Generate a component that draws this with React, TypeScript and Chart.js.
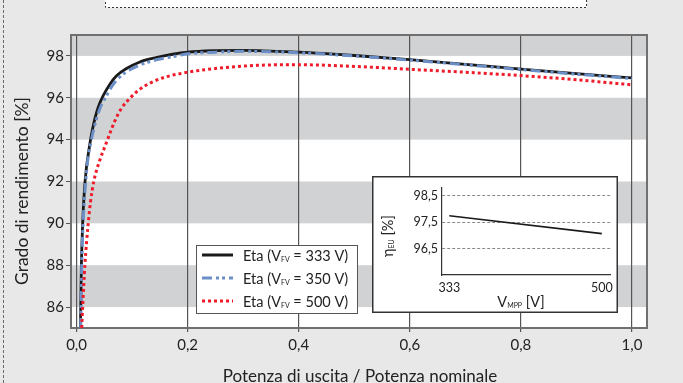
import React, { useEffect, useRef } from 'react';
import { Chart, registerables } from 'chart.js';

Chart.register(...registerables);

const FONT = 'Lato, "Open Sans", sans-serif';

// ---- main chart data ----
const X_TICKS = [0, 0.2, 0.4, 0.6, 0.8, 1.0];
const Y_TICKS = [86, 88, 90, 92, 94, 96, 98];
const BANDS = [[86, 88], [90, 92], [94, 96], [98, 100]];

const P_333 = [0.007, 0.0075, 0.0087, 0.011, 0.0153, 0.024, 0.028, 0.033, 0.039, 0.048, 0.06, 0.072, 0.09, 0.113, 0.143, 0.173, 0.2, 0.25, 0.3, 0.4, 0.5, 0.6, 0.7, 0.8, 0.9, 1.0];
const ETA_333 = [85, 86, 88, 90, 92, 93.8, 94.4, 95.0, 95.55, 96.1, 96.65, 97.05, 97.4, 97.7, 97.92, 98.08, 98.18, 98.25, 98.27, 98.18, 98.02, 97.82, 97.6, 97.37, 97.15, 96.95];

const P_350 = [0.0075, 0.008, 0.0093, 0.0118, 0.0165, 0.021, 0.026, 0.03, 0.036, 0.043, 0.053, 0.065, 0.078, 0.097, 0.119, 0.15, 0.18, 0.2, 0.25, 0.3, 0.4, 0.5, 0.6, 0.7, 0.8, 0.9, 1.0];
const ETA_350 = [85, 86, 88, 90, 92, 93.2, 93.9, 94.4, 95.0, 95.55, 96.05, 96.6, 97.0, 97.35, 97.62, 97.85, 98.0, 98.1, 98.18, 98.22, 98.15, 98.0, 97.8, 97.58, 97.35, 97.13, 96.92];

const P_500 = [0.0093, 0.011, 0.015, 0.021, 0.025, 0.031, 0.042, 0.051, 0.06, 0.069, 0.081, 0.098, 0.116, 0.137, 0.161, 0.2, 0.25, 0.325, 0.4, 0.5, 0.6, 0.7, 0.8, 0.9, 1.0];
const ETA_500 = [85, 86, 88, 90, 91.0, 92, 93.03, 93.67, 94.3, 94.9, 95.5, 96.03, 96.45, 96.76, 97.0, 97.22, 97.4, 97.55, 97.58, 97.5, 97.36, 97.22, 97.06, 96.86, 96.62];

const LEGEND_VOLTAGES = ['333', '350', '500'];

// ---- inset data ----
const V_MPP = [333, 500];
const ETA_EU = [97.75, 97.07];
const INSET_X_TICKS = [333, 500];
const INSET_Y_TICKS = [96.5, 97.5, 98.5];

const X_TITLE = 'Potenza di uscita / Potenza nominale';
const Y_TITLE = 'Grado di rendimento [%]';

const COLORS = ['#1a1a1a', '#6b8fc6', '#ee1c2a'];
const DASHES: number[][] = [[], [10, 4, 3, 3, 3, 4], [3, 3]];

type Part = { t: string; sub?: boolean };

function drawRich(ctx: CanvasRenderingContext2D, parts: Part[], x: number, y: number, size: number, subSize: number, align: 'left' | 'center') {
  const widths = parts.map((p) => {
    ctx.font = `${p.sub ? subSize : size}px ${FONT}`;
    return ctx.measureText(p.t).width;
  });
  const total = widths.reduce((a, b) => a + b, 0);
  let cx = align === 'center' ? x - total / 2 : x;
  ctx.textAlign = 'left';
  ctx.textBaseline = 'alphabetic';
  parts.forEach((p, i) => {
    ctx.font = `${p.sub ? subSize : size}px ${FONT}`;
    ctx.fillText(p.t, cx, p.sub ? y + 1.5 : y);
    cx += widths[i];
  });
}

const mainDecor = {
  id: 'mainDecor',
  beforeDraw(chart: any) {
    const { ctx, chartArea: a, scales } = chart;
    const y = scales.y;
    ctx.save();
    ctx.fillStyle = '#ffffff';
    ctx.fillRect(a.left, a.top, a.right - a.left, a.bottom - a.top);
    ctx.fillStyle = '#d1d2d4';
    BANDS.forEach(([lo, hi]) => {
      const y1 = Math.max(y.getPixelForValue(hi), a.top);
      const y2 = Math.min(y.getPixelForValue(lo), a.bottom);
      if (y2 > y1) ctx.fillRect(a.left, y1, a.right - a.left, y2 - y1);
    });
    ctx.restore();
  },
  afterDraw(chart: any) {
    const { ctx, chartArea: a } = chart;
    ctx.save();
    // top and right frame
    ctx.strokeStyle = '#707070';
    ctx.lineWidth = 2;
    ctx.beginPath();
    ctx.moveTo(a.left - 1, a.top);
    ctx.lineTo(a.right, a.top);
    ctx.lineTo(a.right, a.bottom + 1);
    ctx.stroke();

    // outer dashed frame (left) and title box
    ctx.strokeStyle = '#6a6a6a';
    ctx.lineWidth = 1;
    ctx.setLineDash([3, 2]);
    ctx.beginPath();
    ctx.moveTo(3.5, 0);
    ctx.lineTo(3.5, 383);
    ctx.stroke();
    ctx.fillStyle = '#ffffff';
    ctx.fillRect(105, -3, 482, 10.5);
    ctx.strokeStyle = '#333';
    ctx.setLineDash([2, 2]);
    ctx.strokeRect(105.5, -3, 481, 10.5);
    ctx.setLineDash([]);

    // axis titles
    ctx.fillStyle = '#222';
    ctx.font = `17px ${FONT}`;
    ctx.textAlign = 'center';
    ctx.textBaseline = 'alphabetic';
    ctx.fillText(X_TITLE, (a.left + a.right) / 2 + 1, 382);
    ctx.save();
    ctx.translate(27.5, 191);
    ctx.rotate(-Math.PI / 2);
    ctx.font = `17.5px ${FONT}`;
    ctx.fillText(Y_TITLE, 0, 0);
    ctx.restore();

    // legend
    const lx = 196, ly = 245, lw = 161, lh = 68;
    ctx.fillStyle = '#ffffff';
    ctx.fillRect(lx, ly, lw, lh);
    ctx.strokeStyle = '#555';
    ctx.lineWidth = 1;
    ctx.strokeRect(lx + 0.5, ly + 0.5, lw, lh);
    LEGEND_VOLTAGES.forEach((v, i) => {
      const cy = 255 + i * 23;
      ctx.strokeStyle = COLORS[i];
      ctx.lineWidth = 3;
      ctx.setLineDash(DASHES[i]);
      ctx.beginPath();
      ctx.moveTo(202, cy);
      ctx.lineTo(233, cy);
      ctx.stroke();
      ctx.setLineDash([]);
      ctx.fillStyle = '#222';
      drawRich(ctx, [{ t: 'Eta (V' }, { t: 'FV', sub: true }, { t: ` = ${v} V)` }], 243, cy + 5.5, 14.5, 7, 'left');
    });
    ctx.restore();
  },
};

const insetDecor = {
  id: 'insetDecor',
  beforeDraw(chart: any) {
    const { ctx, width, height } = chart;
    ctx.save();
    ctx.fillStyle = '#ffffff';
    ctx.fillRect(0, 0, width, height);
    ctx.restore();
  },
  afterDraw(chart: any) {
    const { ctx, width, height } = chart;
    ctx.save();
    ctx.strokeStyle = '#333';
    ctx.lineWidth = 1.5;
    ctx.strokeRect(0.75, 0.75, width - 1.5, height - 1.5);
    ctx.fillStyle = '#222';
    drawRich(ctx, [{ t: 'V' }, { t: 'MPP', sub: true }, { t: ' [V]' }], 149, 130.5, 14.5, 7, 'center');
    ctx.translate(20.5, 60);
    ctx.rotate(-Math.PI / 2);
    drawRich(ctx, [{ t: 'η' }, { t: 'EU', sub: true }, { t: ' [%]' }], 0, 0, 14.5, 7, 'center');
    ctx.restore();
  },
};

export default function App() {
  const mainRef = useRef<HTMLCanvasElement>(null);
  const insetRef = useRef<HTMLCanvasElement>(null);

  useEffect(() => {
    document.body.style.margin = '0';
    const series = [
      [P_333, ETA_333],
      [P_350, ETA_350],
      [P_500, ETA_500],
    ];
    const main = new Chart(mainRef.current!, {
      type: 'line',
      data: {
        datasets: series.map(([xs, ys], i) => ({
          label: `Eta (VFV = ${LEGEND_VOLTAGES[i]} V)`,
          data: xs.map((x, j) => ({ x, y: ys[j] })),
          borderColor: COLORS[i],
          borderWidth: i === 0 ? 2.8 : 3,
          borderDash: DASHES[i],
          pointRadius: 0,
          fill: false,
          cubicInterpolationMode: 'monotone' as const,
          order: 2 - i,
        })),
      },
      options: {
        responsive: false,
        animation: false,
        devicePixelRatio: 1,
        layout: { padding: { top: 35, right: 36, left: 0, bottom: 0 } },
        plugins: { legend: { display: false }, tooltip: { enabled: false } },
        scales: {
          x: {
            type: 'linear',
            min: -0.01,
            max: 1.027,
            afterBuildTicks: (s: any) => {
              s.ticks = X_TICKS.map((v) => ({ value: v }));
            },
            afterFit: (s: any) => {
              s.height = 55;
            },
            grid: { color: '#555', lineWidth: 1.2, tickLength: 4, drawOnChartArea: true },
            border: { color: '#707070', width: 2 },
            ticks: {
              font: { family: FONT, size: 15 },
              color: '#222',
              padding: 4,
              maxRotation: 0,
              callback: (v: any) => Number(v).toFixed(1).replace('.', ','),
            },
          },
          y: {
            type: 'linear',
            min: 85,
            max: 99,
            afterBuildTicks: (s: any) => {
              s.ticks = Y_TICKS.map((v) => ({ value: v }));
            },
            afterFit: (s: any) => {
              s.width = 71;
            },
            grid: { color: '#555', lineWidth: 1, tickLength: 5, drawOnChartArea: false },
            border: { color: '#707070', width: 2 },
            ticks: {
              font: { family: FONT, size: 15 },
              color: '#222',
              padding: 2,
              callback: (v: any) => String(v),
            },
          },
        },
      },
      plugins: [mainDecor],
    });

    const inset = new Chart(insetRef.current!, {
      type: 'line',
      data: {
        datasets: [
          {
            data: V_MPP.map((x, i) => ({ x, y: ETA_EU[i] })),
            borderColor: '#1a1a1a',
            borderWidth: 1.6,
            pointRadius: 0,
            fill: false,
          },
        ],
      },
      options: {
        responsive: false,
        animation: false,
        devicePixelRatio: 1,
        layout: { padding: { top: 12, right: 5, left: 0, bottom: 0 } },
        plugins: { legend: { display: false }, tooltip: { enabled: false } },
        scales: {
          x: {
            type: 'linear',
            min: 325,
            max: 510,
            afterBuildTicks: (s: any) => {
              s.ticks = INSET_X_TICKS.map((v) => ({ value: v }));
            },
            afterFit: (s: any) => {
              s.height = 38;
            },
            grid: { drawOnChartArea: false, drawTicks: false },
            border: { color: '#333', width: 1.2 },
            ticks: {
              font: { family: FONT, size: 12.5 },
              color: '#222',
              padding: 5,
              maxRotation: 0,
              callback: (v: any) => String(v),
            },
          },
          y: {
            type: 'linear',
            min: 95.5,
            max: 98.8,
            afterBuildTicks: (s: any) => {
              s.ticks = INSET_Y_TICKS.map((v) => ({ value: v }));
            },
            afterFit: (s: any) => {
              s.width = 70;
            },
            grid: { color: '#8a8a8a', lineWidth: 1, drawTicks: false, drawOnChartArea: true },
            border: { color: '#333', width: 1.2, dash: [3, 2] },
            ticks: {
              font: { family: FONT, size: 12.5 },
              color: '#222',
              padding: 4,
              callback: (v: any) => Number(v).toFixed(1).replace('.', ','),
            },
          },
        },
      },
      plugins: [insetDecor],
    });

    return () => {
      main.destroy();
      inset.destroy();
    };
  }, []);

  return (
    <div style={{ position: 'relative', width: 683, height: 383, background: '#e8e8e8', overflow: 'hidden' }}>
      <canvas ref={mainRef} width={683} height={383} style={{ position: 'absolute', left: 0, top: 0 }} />
      <canvas ref={insetRef} width={246} height={137} style={{ position: 'absolute', left: 372, top: 176 }} />
    </div>
  );
}
